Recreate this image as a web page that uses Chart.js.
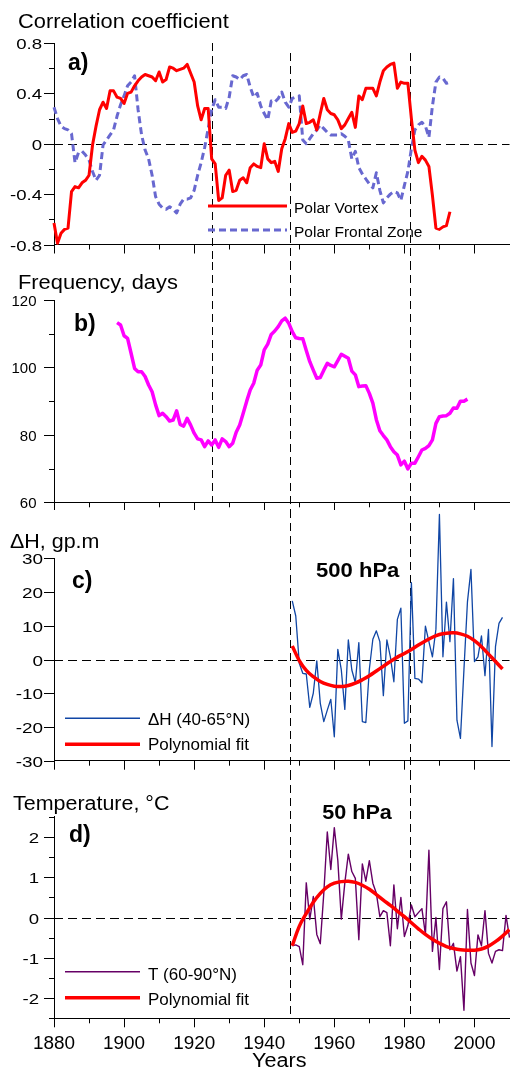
<!DOCTYPE html>
<html lang="en">
<head>
  <meta charset="UTF-8">
  <title>Polar vortex and frontal zone</title>
  <style>
    body { margin: 0; background: #fff; }
    #wrap { position: relative; width: 510px; height: 1068px; overflow: hidden; }
    #wrap canvas { position: absolute; left: 0; }
  </style>
</head>
<body>
  <div id="wrap">
    <canvas id="chartA" width="510" height="262" style="top:0px"></canvas>
    <canvas id="chartB" width="510" height="248" style="top:262px"></canvas>
    <canvas id="chartC" width="510" height="262" style="top:510px"></canvas>
    <canvas id="chartD" width="510" height="296" style="top:772px"></canvas>
  </div>

  <script src="https://cdn.jsdelivr.net/npm/chart.js"></script>
  <script>
    // ---- data ----
    // a) correlation coefficient, one value per year from 1880
    const corrStart = 1880;
    const vortexCorr = [
      -0.63, -0.79, -0.71, -0.68, -0.67, -0.38, -0.34, -0.35, -0.31, -0.29,
      -0.25, -0.01, 0.14, 0.27, 0.33, 0.28, 0.42, 0.42, 0.37, 0.36,
      0.32, 0.40, 0.41, 0.46, 0.50, 0.53, 0.55, 0.54, 0.53, 0.50,
      0.57, 0.49, 0.51, 0.61, 0.60, 0.58, 0.59, 0.60, 0.63, 0.56,
      0.49, 0.30, 0.19, 0.28, 0.28, -0.12, -0.16, -0.45, -0.43, -0.25,
      -0.21, -0.38, -0.37, -0.29, -0.27, -0.31, -0.19, -0.16, -0.18, -0.19,
      0.00, -0.12, -0.15, -0.14, -0.22, -0.04, 0.04, 0.16, 0.09, 0.10,
      0.16, 0.30, 0.16, 0.17, 0.19, 0.11, 0.24, 0.36, 0.27, 0.24,
      0.23, 0.19, 0.12, 0.15, 0.20, 0.25, 0.13, 0.38, 0.35, 0.44,
      0.44, 0.44, 0.38, 0.49, 0.58, 0.61, 0.63, 0.64, 0.44, 0.49,
      0.48, 0.48, 0.20, -0.05, -0.15, -0.10, -0.13, -0.18, -0.41, -0.67,
      -0.68, -0.66, -0.65, -0.54
    ];
    const frontalCorr = [
      0.29, 0.20, 0.14, 0.12, 0.11, 0.08, -0.15, -0.07, -0.06, -0.09,
      -0.13, -0.22, -0.29, -0.25, -0.01, 0.03, 0.07, 0.11, 0.22, 0.31,
      0.38, 0.46, 0.49, 0.54, 0.27, 0.07, -0.05, -0.12, -0.25, -0.42,
      -0.48, -0.51, -0.52, -0.50, -0.52, -0.55, -0.48, -0.44, -0.44, -0.43,
      -0.37, -0.25, -0.15, -0.03, 0.12, 0.27, 0.35, 0.29, 0.29, 0.28,
      0.37, 0.54, 0.53, 0.51, 0.54, 0.55, 0.45, 0.37, 0.40, 0.30,
      0.24, 0.19, 0.34, 0.33, 0.36, 0.41, 0.33, 0.29, 0.36, 0.37,
      0.38, 0.03, 0.00, 0.04, 0.08, 0.11, 0.15, 0.12, 0.09, 0.07,
      0.07, 0.07, 0.08, 0.06, 0.03, -0.12, -0.06, -0.19, -0.24, -0.28,
      -0.32, -0.35, -0.23, -0.37, -0.47, -0.43, -0.40, -0.38, -0.39, -0.45,
      -0.33, -0.22, -0.04, 0.11, 0.15, 0.17, 0.14, 0.05, 0.30, 0.49,
      0.53, 0.52, 0.48, 0.49
    ];

    // b) frequency, days, from 1898
    const freqStart = 1898;
    const frequency = [
      113.3, 112.6, 109.4, 108.6, 104.2, 99.7, 98.7, 98.7, 97.3, 94.8,
      92.8, 88.9, 85.7, 86.4, 85.4, 84.1, 84.4, 87.1, 83.1, 82.6,
      84.9, 82.9, 80.5, 78.8, 78.5, 76.5, 78.2, 77.0, 78.5, 76.3,
      78.8, 78.0, 76.5, 77.5, 80.8, 82.9, 86.4, 90.0, 93.3, 95.3,
      99.2, 100.7, 105.2, 106.9, 109.8, 110.8, 112.1, 113.8, 114.6, 113.1,
      110.6, 108.8, 108.6, 108.5, 105.0, 101.7, 99.2, 96.8, 97.0, 99.2,
      101.2, 100.6, 100.2, 102.0, 103.9, 103.3, 102.7, 98.9, 97.8, 94.3,
      94.5, 94.6, 92.3, 89.4, 84.5, 81.2, 79.8, 78.5, 76.5, 75.0,
      74.0, 71.1, 72.2, 69.9, 71.6, 71.6, 73.5, 75.5, 76.0, 76.8,
      78.5, 83.4, 85.4, 85.6, 85.7, 86.4, 88.0, 87.9, 90.0, 90.0,
      90.6
    ];

    // c) 500 hPa height anomaly, gp.m, from 1948
    const dhStart = 1948;
    const deltaH = [
      17.4, 12.9, -1.1, -4.1, -4.3, -14.2, -10.0, -0.4, -13.0, -18.4,
      -15.0, -11.8, -22.9, 3.0, -3.1, -14.8, 5.8, -3.1, -6.9, 5.0,
      -18.4, -18.7, -2.9, 6.0, 8.5, 5.3, -10.7, 5.8, 0.8, -6.6,
      11.9, 15.2, -18.9, -18.2, 22.8, -5.6, -5.8, -6.9, 9.9, 5.3,
      0.8, 9.0, 43.0, 0.8, 17.0, 5.3, 24.0, -18.0, -23.4, -3.0,
      17.1, 26.7, -0.6, 0.8, 7.0, -4.8, 8.9, -25.8, 3.8, 10.7,
      12.5
    ];
    const dhFitYears = [1948, 1950, 1952, 1954, 1956, 1958, 1960, 1962, 1964, 1966,
      1968, 1970, 1972, 1974, 1976, 1978, 1980, 1982, 1984, 1986,
      1988, 1990, 1992, 1994, 1996, 1998, 2000, 2002, 2004, 2006, 2008];
    const dhFit = [4.0, -0.3, -3.2, -5.1, -6.5, -7.4, -7.9, -8.0, -7.7, -7.0,
      -6.0, -4.8, -3.4, -2.0, -0.6, 0.7, 1.8, 3.0, 4.3, 5.5,
      6.6, 7.4, 7.8, 7.9, 7.6, 6.9, 5.6, 3.8, 1.6, -0.6, -2.8];

    // d) 50 hPa temperature anomaly, °C, from 1948
    const tStart = 1948;
    const temp50 = [
      -0.70, -0.68, -0.72, -1.17, 0.86, -0.05, 0.52, -0.42, -0.65, 0.60,
      2.12, 1.19, 2.23, 1.42, -0.04, 0.86, 1.57, 1.14, 0.97, -0.55,
      1.33, 0.90, 1.41, 0.85, 0.60, 0.02, 0.17, 0.12, -0.70, 0.81,
      -0.28, 0.50, -0.47, -0.20, 0.31, 0.02, 0.12, 0.22, -0.42, 1.67,
      -0.84, 0.00, -1.29, 0.22, 0.39, -0.80, -0.64, -1.33, -0.97, -2.30,
      0.20, -1.13, -1.44, -0.43, -0.70, 0.17, -0.89, -1.13, -0.84, -0.80,
      -0.82, 0.05, -0.50
    ];
    const tFitYears = [1948, 1950, 1952, 1954, 1956, 1958, 1960, 1962, 1964, 1966,
      1968, 1970, 1972, 1974, 1976, 1978, 1980, 1982, 1984, 1986,
      1988, 1990, 1992, 1994, 1996, 1998, 2000, 2002, 2004, 2006, 2008, 2010];
    const tFit = [-0.70, -0.22, 0.10, 0.38, 0.60, 0.76, 0.85, 0.89, 0.90, 0.87,
      0.80, 0.70, 0.57, 0.43, 0.30, 0.16, 0.02, -0.13, -0.28, -0.42,
      -0.54, -0.64, -0.72, -0.77, -0.80, -0.81, -0.81, -0.78, -0.71, -0.60, -0.46, -0.30];

    // years of the vertical dashed markers
    const markerYears = [1925, 1947.4, 1981.7];
    const xLabelYears = [1880, 1900, 1920, 1940, 1960, 1980, 2000];

    // ---- helpers ----
    const FAMILY = '"Liberation Sans", Arial, Helvetica, sans-serif';
    Chart.defaults.font.family = FAMILY;

    const pts = (start, vals) => vals.map((v, i) => ({ x: start + i, y: v }));
    const pairs = (xs, vals) => xs.map((x, i) => ({ x, y: vals[i] }));

    function seg(ctx, x0, y0, x1, y1) {
      ctx.beginPath(); ctx.moveTo(x0, y0); ctx.lineTo(x1, y1); ctx.stroke();
    }

    // text with optional horizontal stretch, the source figure is a bit wide
    function txt(ctx, s, x, y, size, bold, sx, align) {
      sx = sx || 1;
      ctx.save();
      ctx.font = (bold ? 'bold ' : '') + size + 'px ' + FAMILY;
      ctx.fillStyle = '#000';
      ctx.textAlign = 'left';
      ctx.textBaseline = 'alphabetic';
      const w = ctx.measureText(s).width * sx;
      let x0 = x;
      if (align === 'right') x0 = x - w;
      if (align === 'center') x0 = x - w / 2;
      ctx.translate(x0, y);
      ctx.scale(sx, 1);
      ctx.fillText(s, 0, 0);
      ctx.restore();
    }

    const deco = {
      id: 'deco',
      beforeDatasetsDraw(chart, args, o) {
        const { ctx, chartArea: a } = chart;
        const xs = chart.scales.x, ys = chart.scales.y;
        ctx.save();
        ctx.strokeStyle = '#000';
        ctx.lineWidth = 1;
        if (o.zero) {
          ctx.setLineDash([9, 5]);
          const py = Math.round(ys.getPixelForValue(0)) + 0.5;
          seg(ctx, a.left, py, a.right, py);
        }
        ctx.setLineDash([8, 5]);
        (o.marks || []).forEach(m => {
          const px = Math.round(xs.getPixelForValue(m[0])) + 0.5;
          seg(ctx, px, m[1], px, m[2]);
        });
        ctx.restore();
      },
      afterDraw(chart, args, o) {
        const { ctx, chartArea: a } = chart;
        const xs = chart.scales.x, ys = chart.scales.y;
        ctx.save();
        ctx.strokeStyle = '#000';
        ctx.lineWidth = 1;
        // y ticks and labels
        ys.ticks.forEach(t => {
          const py = Math.round(ys.getPixelForValue(t.value)) + 0.5;
          const lab = o.yLabel(t.value);
          seg(ctx, a.left - (lab !== null ? 10 : 5), py, a.left, py);
          if (lab !== null) {
            txt(ctx, lab, a.left - o.yGap, py + o.yFont * 0.36, o.yFont, false, o.yStretch, 'right');
          }
        });
        // x ticks
        xs.ticks.forEach(t => {
          const px = Math.round(xs.getPixelForValue(t.value)) + 0.5;
          const major = Math.round(t.value) % 20 === 0;
          seg(ctx, px, a.bottom, px, a.bottom + (major ? 9 : 5));
        });
        if (o.xLabels) {
          xLabelYears.forEach(v => {
            txt(ctx, String(v), xs.getPixelForValue(v), o.xLabels, 18, false, 1.05, 'center');
          });
        }
        // legend samples
        (o.legend || []).forEach(l => {
          ctx.save();
          ctx.strokeStyle = l.color;
          ctx.lineWidth = l.w;
          ctx.setLineDash(l.dash || []);
          seg(ctx, l.x0, l.y, l.x1, l.y);
          ctx.restore();
          txt(ctx, l.text, l.tx, l.ty, l.size, false, 1, 'left');
        });
        // titles and labels
        (o.texts || []).forEach(t => txt(ctx, t[0], t[1], t[2], t[3], t[4], t[5], t[6]));
        ctx.restore();
      }
    };

    function makeChart(id, c) {
      return new Chart(document.getElementById(id), {
        type: 'line',
        data: { datasets: c.datasets },
        options: {
          responsive: false,
          animation: false,
          devicePixelRatio: 1,
          events: [],
          layout: { padding: { top: c.top, bottom: c.bottom, left: 0, right: 0.5 } },
          elements: {
            point: { radius: 0 },
            line: { tension: 0, borderJoinStyle: 'round', borderCapStyle: 'butt', fill: false }
          },
          plugins: { legend: { display: false }, tooltip: { enabled: false }, deco: c.deco },
          scales: {
            x: {
              type: 'linear', min: 1880, max: 2010,
              ticks: { display: false, stepSize: 10 },
              grid: { display: false },
              border: { display: true, color: '#000', width: 1 },
              afterFit: s => { s.height = c.xh; }
            },
            y: {
              type: 'linear', min: c.ymin, max: c.ymax,
              ticks: { display: false, stepSize: c.ystep },
              grid: { display: false },
              border: { display: true, color: '#000', width: 1 },
              afterFit: s => { s.width = 54; }
            }
          }
        },
        plugins: [deco]
      });
    }

    const near = (v, step) => Math.abs(v / step - Math.round(v / step)) < 1e-6;
    const fmt = v => String(Math.round(v * 10) / 10);

    // ---- a) correlation ----
    makeChart('chartA', {
      top: 43, bottom: 7.5, xh: 10, ymin: -0.8, ymax: 0.8, ystep: 0.2,
      datasets: [
        { label: 'Polar Vortex', data: pts(corrStart, vortexCorr), borderColor: '#ff0000', borderWidth: 3, clip: false },
        { label: 'Polar Frontal Zone', data: pts(corrStart, frontalCorr), borderColor: 'rgb(104,104,208)', borderWidth: 3, borderDash: [7, 4], clip: false }
      ],
      deco: {
        zero: true,
        marks: [[markerYears[0], 43, 262], [markerYears[1], 53, 262], [markerYears[2], 53, 262]],
        yLabel: v => near(v, 0.4) ? fmt(v) : null, yGap: 12, yFont: 15.5, yStretch: 1.2,
        legend: [
          { color: '#ff0000', w: 3, x0: 208, x1: 287, y: 206, text: 'Polar Vortex', tx: 294, ty: 213.3, size: 15.5 },
          { color: 'rgb(104,104,208)', w: 3, dash: [7, 4], x0: 208, x1: 287, y: 230, text: 'Polar Frontal Zone', tx: 294, ty: 236.7, size: 15.5 }
        ],
        texts: [
          ['Correlation coefficient', 18, 28.3, 19.5, false, 1.12, 'left'],
          ['a)', 68, 70, 23, true, 1, 'left']
        ]
      }
    });

    // ---- b) frequency ----
    makeChart('chartB', {
      top: 38, bottom: 3.7, xh: 4, ymin: 60, ymax: 120, ystep: 10,
      datasets: [
        { label: 'Frequency', data: pts(freqStart, frequency), borderColor: '#ff00ff', borderWidth: 3.5, clip: false }
      ],
      deco: {
        zero: false,
        marks: [[markerYears[0], 0, 240.3], [markerYears[1], 0, 248], [markerYears[2], 0, 248]],
        yLabel: v => near(v, 20) ? fmt(v) : null, yGap: 17.5, yFont: 14, yStretch: 1.07,
        texts: [
          ['Frequency, days', 18, 27.3, 19.5, false, 1.12, 'left'],
          ['b)', 74, 68.7, 23, true, 1, 'left']
        ]
      }
    });

    // ---- c) 500 hPa ----
    makeChart('chartC', {
      top: 48.3, bottom: 5.3, xh: 6, ymin: -30, ymax: 30, ystep: 10,
      datasets: [
        { label: 'Polynomial fit', data: pairs(dhFitYears, dhFit), borderColor: '#ff0000', borderWidth: 3.5, tension: 0.4, clip: false },
        { label: 'ΔH (40-65°N)', data: pts(dhStart, deltaH), borderColor: 'rgb(16,70,165)', borderWidth: 1.3, clip: false }
      ],
      deco: {
        zero: true,
        marks: [[markerYears[1], 0, 262], [markerYears[2], 0, 262]],
        yLabel: v => fmt(v), yGap: 11, yFont: 15.5, yStretch: 1.22,
        legend: [
          { color: 'rgb(16,70,165)', w: 1.4, x0: 65, x1: 140, y: 208.3, text: 'ΔH (40-65°N)', tx: 148, ty: 215, size: 17 },
          { color: '#ff0000', w: 3.5, x0: 65, x1: 140, y: 234.3, text: 'Polynomial fit', tx: 148, ty: 240, size: 17 }
        ],
        texts: [
          ['ΔH, gp.m', 10, 38.3, 19.5, false, 1.1, 'left'],
          ['c)', 72, 78, 23, true, 1, 'left'],
          ['500 hPa', 357.7, 66.7, 21, true, 1.05, 'center']
        ]
      }
    });

    // ---- d) 50 hPa ----
    makeChart('chartD', {
      top: 44.7, bottom: 19.7, xh: 30, ymin: -2.5, ymax: 2.5, ystep: 0.5,
      datasets: [
        { label: 'Polynomial fit', data: pairs(tFitYears, tFit), borderColor: '#ff0000', borderWidth: 3.5, tension: 0.4, clip: false },
        { label: 'T (60-90°N)', data: pts(tStart, temp50), borderColor: '#660066', borderWidth: 1.4, clip: false }
      ],
      deco: {
        zero: true,
        marks: [[markerYears[1], 0, 246.3], [markerYears[2], 0, 246.3]],
        yLabel: v => near(v, 1) ? fmt(v) : null, yGap: 15, yFont: 15.5, yStretch: 1.2,
        xLabels: 277.3,
        legend: [
          { color: '#660066', w: 1.4, x0: 65, x1: 140, y: 199.7, text: 'T (60-90°N)', tx: 148, ty: 208, size: 17 },
          { color: '#ff0000', w: 3.5, x0: 65, x1: 140, y: 225.7, text: 'Polynomial fit', tx: 148, ty: 233, size: 17 }
        ],
        texts: [
          ['Temperature, °C', 13, 38, 19.5, false, 1.1, 'left'],
          ['d)', 69, 69.7, 23, true, 1, 'left'],
          ['50 hPa', 357, 47.3, 20, true, 1.08, 'center'],
          ['Years', 279.3, 294.5, 20, false, 1.08, 'center']
        ]
      }
    });
  </script>
</body>
</html>
